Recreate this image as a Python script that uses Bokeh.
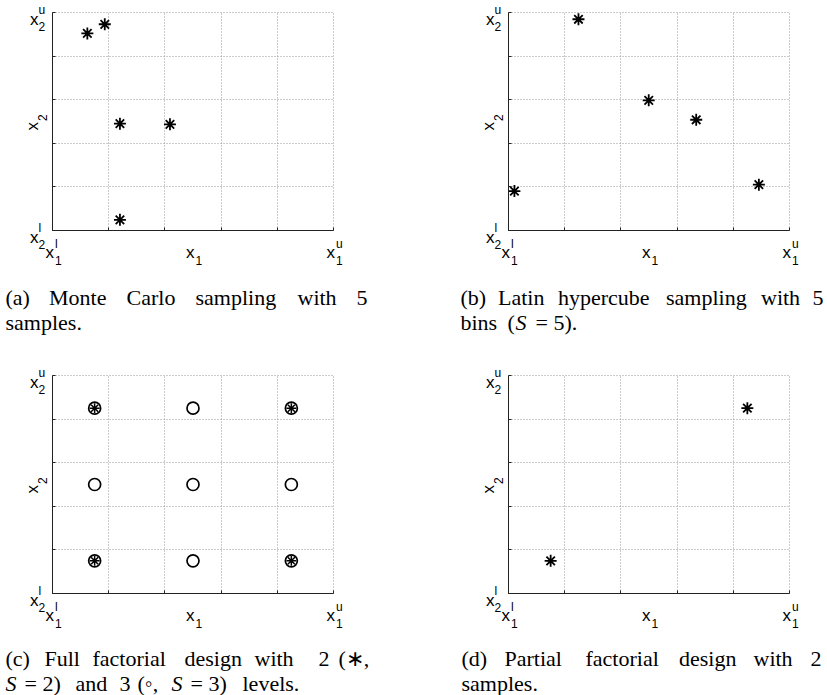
import itertools
from bokeh.plotting import figure
from bokeh.layouts import column, row
from bokeh.models import (Range1d, Label, LinearAxis, Grid, FixedTicker,
                          CustomJSTickFormatter)
from bokeh.embed import file_html
from bokeh.resources import INLINE

# ---------------- data ----------------
mc_x = [0.124, 0.186, 0.240, 0.418, 0.240]
mc_y = [0.904, 0.946, 0.490, 0.487, 0.049]

lhs_x = [0.021, 0.249, 0.499, 0.668, 0.891]
lhs_y = [0.181, 0.969, 0.597, 0.508, 0.210]

ff_levels_2 = [0.15, 0.85]
ff_levels_3 = [0.15, 0.5, 0.85]

pf_x = [0.15, 0.85]
pf_y = [0.15, 0.85]

grid_ticks = [0.0, 0.2, 0.4, 0.6, 0.8, 1.0]

SANS = "Liberation Sans"
SERIF = "Liberation Serif"

PW, PH = 281.0, 218.0   # pixel size of the unit square


def make_fig(width, height, x0, y0):
    """x0, y0: pixel position (from canvas top-left) of data point (0, 1)."""
    xr = Range1d(-x0 / PW, (width - x0) / PW)
    yr = Range1d(-(height - y0 - PH) / PH, (y0 + PH) / PH)
    p = figure(width=width, height=height, output_backend="svg", toolbar_location=None,
               x_range=xr, y_range=yr, x_axis_location=None, y_axis_location=None,
               min_border=0, background_fill_color="white", border_fill_color="white")
    p.outline_line_color = None
    p.grid.visible = False
    ticker = FixedTicker(ticks=grid_ticks)
    for side in ("below", "left"):
        ax = LinearAxis(fixed_location=0, ticker=ticker, bounds=(0, 1),
                        major_tick_in=3, major_tick_out=0, minor_tick_line_color=None,
                        major_label_standoff=0, axis_label=None,
                        formatter=CustomJSTickFormatter(code="return ''"),
                        axis_line_color="#222222", axis_line_width=1,
                        major_tick_line_color="#222222")
        p.add_layout(ax, side)
    for dim in (0, 1):
        kw = dict(dimension=dim, ticker=ticker, bounds=(0, 1),
                  grid_line_color="#999999", grid_line_dash="1 2", grid_line_width=1)
        if "cross_bounds" in Grid.properties():
            kw["cross_bounds"] = (0, 1)
            p.add_layout(Grid(**kw))
        else:
            if dim == 0:
                p.segment(grid_ticks, [0] * 6, grid_ticks, [1] * 6,
                          line_color="#999999", line_dash="1 2", level="underlay")
            else:
                p.segment([0] * 6, grid_ticks, [1] * 6, grid_ticks,
                          line_color="#999999", line_dash="1 2", level="underlay")
    return p


def lbl(p, x, y, text, xo, yo, size, font=SANS, angle=0.0, style="normal"):
    p.add_layout(Label(x=x, y=y, x_units="data", y_units="data", text=text,
                       x_offset=xo, y_offset=yo, angle=angle,
                       text_font=font, text_font_size=f"{size}px",
                       text_font_style=style,
                       text_align="left", text_baseline="alphabetic",
                       text_color="black"))


def tick_labels(p):
    for yv, sup in ((0.0, "l"), (1.0, "u")):
        lbl(p, 0, yv, "x", -22.5, -7, 17)
        lbl(p, 0, yv, sup, -14, 3, 12)
        lbl(p, 0, yv, "2", -14, -14, 12)
    for xv, sup in ((0.0, "l"), (0.5, None), (1.0, "u")):
        lbl(p, xv, 0, "x", -7, -21.5, 17)
        if sup:
            lbl(p, xv, 0, sup, 2.5, -13, 12)
        lbl(p, xv, 0, "1", 2.5, -30, 12)
    lbl(p, 0, 0.5, "x", -20, -9, 17, angle=1.5708)
    lbl(p, 0, 0.5, "2", -10, 0.5, 12, angle=1.5708)


def caption(p, fl, fb, lines):
    for py, words in lines:
        for w in words:
            text, px = w[0], w[1]
            style = "italic" if len(w) > 2 and w[2] else "normal"
            lbl(p, 0, 0, text, px - fl, -(py - fb), 22, font=SERIF, style=style)


# ---------------- panels ----------------
pa = make_fig(420, 345, 52, 12)
pb = make_fig(407, 345, 88, 12)
pc = make_fig(420, 350, 52, 30)
pd = make_fig(407, 350, 88, 30)

star = dict(marker="asterisk", size=12, line_color="black", line_width=1.8)

pa.scatter(mc_x, mc_y, **star)
pb.scatter(lhs_x, lhs_y, **star)

ff3 = list(itertools.product(ff_levels_3, ff_levels_3))
ff2 = list(itertools.product(ff_levels_2, ff_levels_2))
pc.scatter([a for a, b in ff3], [b for a, b in ff3], marker="circle", size=12,
           fill_color=None, line_color="black", line_width=1.7)
pc.scatter([a for a, b in ff2], [b for a, b in ff2], marker="asterisk", size=10,
           line_color="black", line_width=1.5)

pd.scatter(pf_x, pf_y, **star)

for p in (pa, pb, pc, pd):
    tick_labels(p)

# captions: (canvas x, canvas y) of each word's left baseline point
caption(pa, 52, 230, [
    (297, [("(a)", 5), ("Monte", 48.5), ("Carlo", 126), ("sampling", 195),
           ("with", 297), ("5", 356)]),
    (322, [("samples.", 5)]),
])
caption(pb, 88, 230, [
    (297, [("(b)", 40), ("Latin", 77.5), ("hypercube", 137.5), ("sampling", 245.5),
           ("with", 340.5), ("5", 392)]),
    (322, [("bins", 40), ("(", 87), ("S", 95, True), ("= 5).", 115)]),
])
caption(pc, 52, 248, [
    (313, [("(c)", 5), ("Full", 44), ("factorial", 92), ("design", 184),
           ("with", 254), ("2", 318), ("(\u2217,", 338)]),
    (338, [("S", 5, True), ("= 2)", 24), ("and", 75), ("3", 119), ("(\u25e6,", 137),
           ("S", 171, True), ("= 3)", 190), ("levels.", 242)]),
])
caption(pd, 88, 248, [
    (313, [("(d)", 41), ("Partial", 84), ("factorial", 165), ("design", 258.5),
           ("with", 333), ("2", 390)]),
    (338, [("samples.", 41)]),
])

layout = column(row(pa, pb), row(pc, pd))
open("out.html", "w").write(file_html(layout, INLINE))
